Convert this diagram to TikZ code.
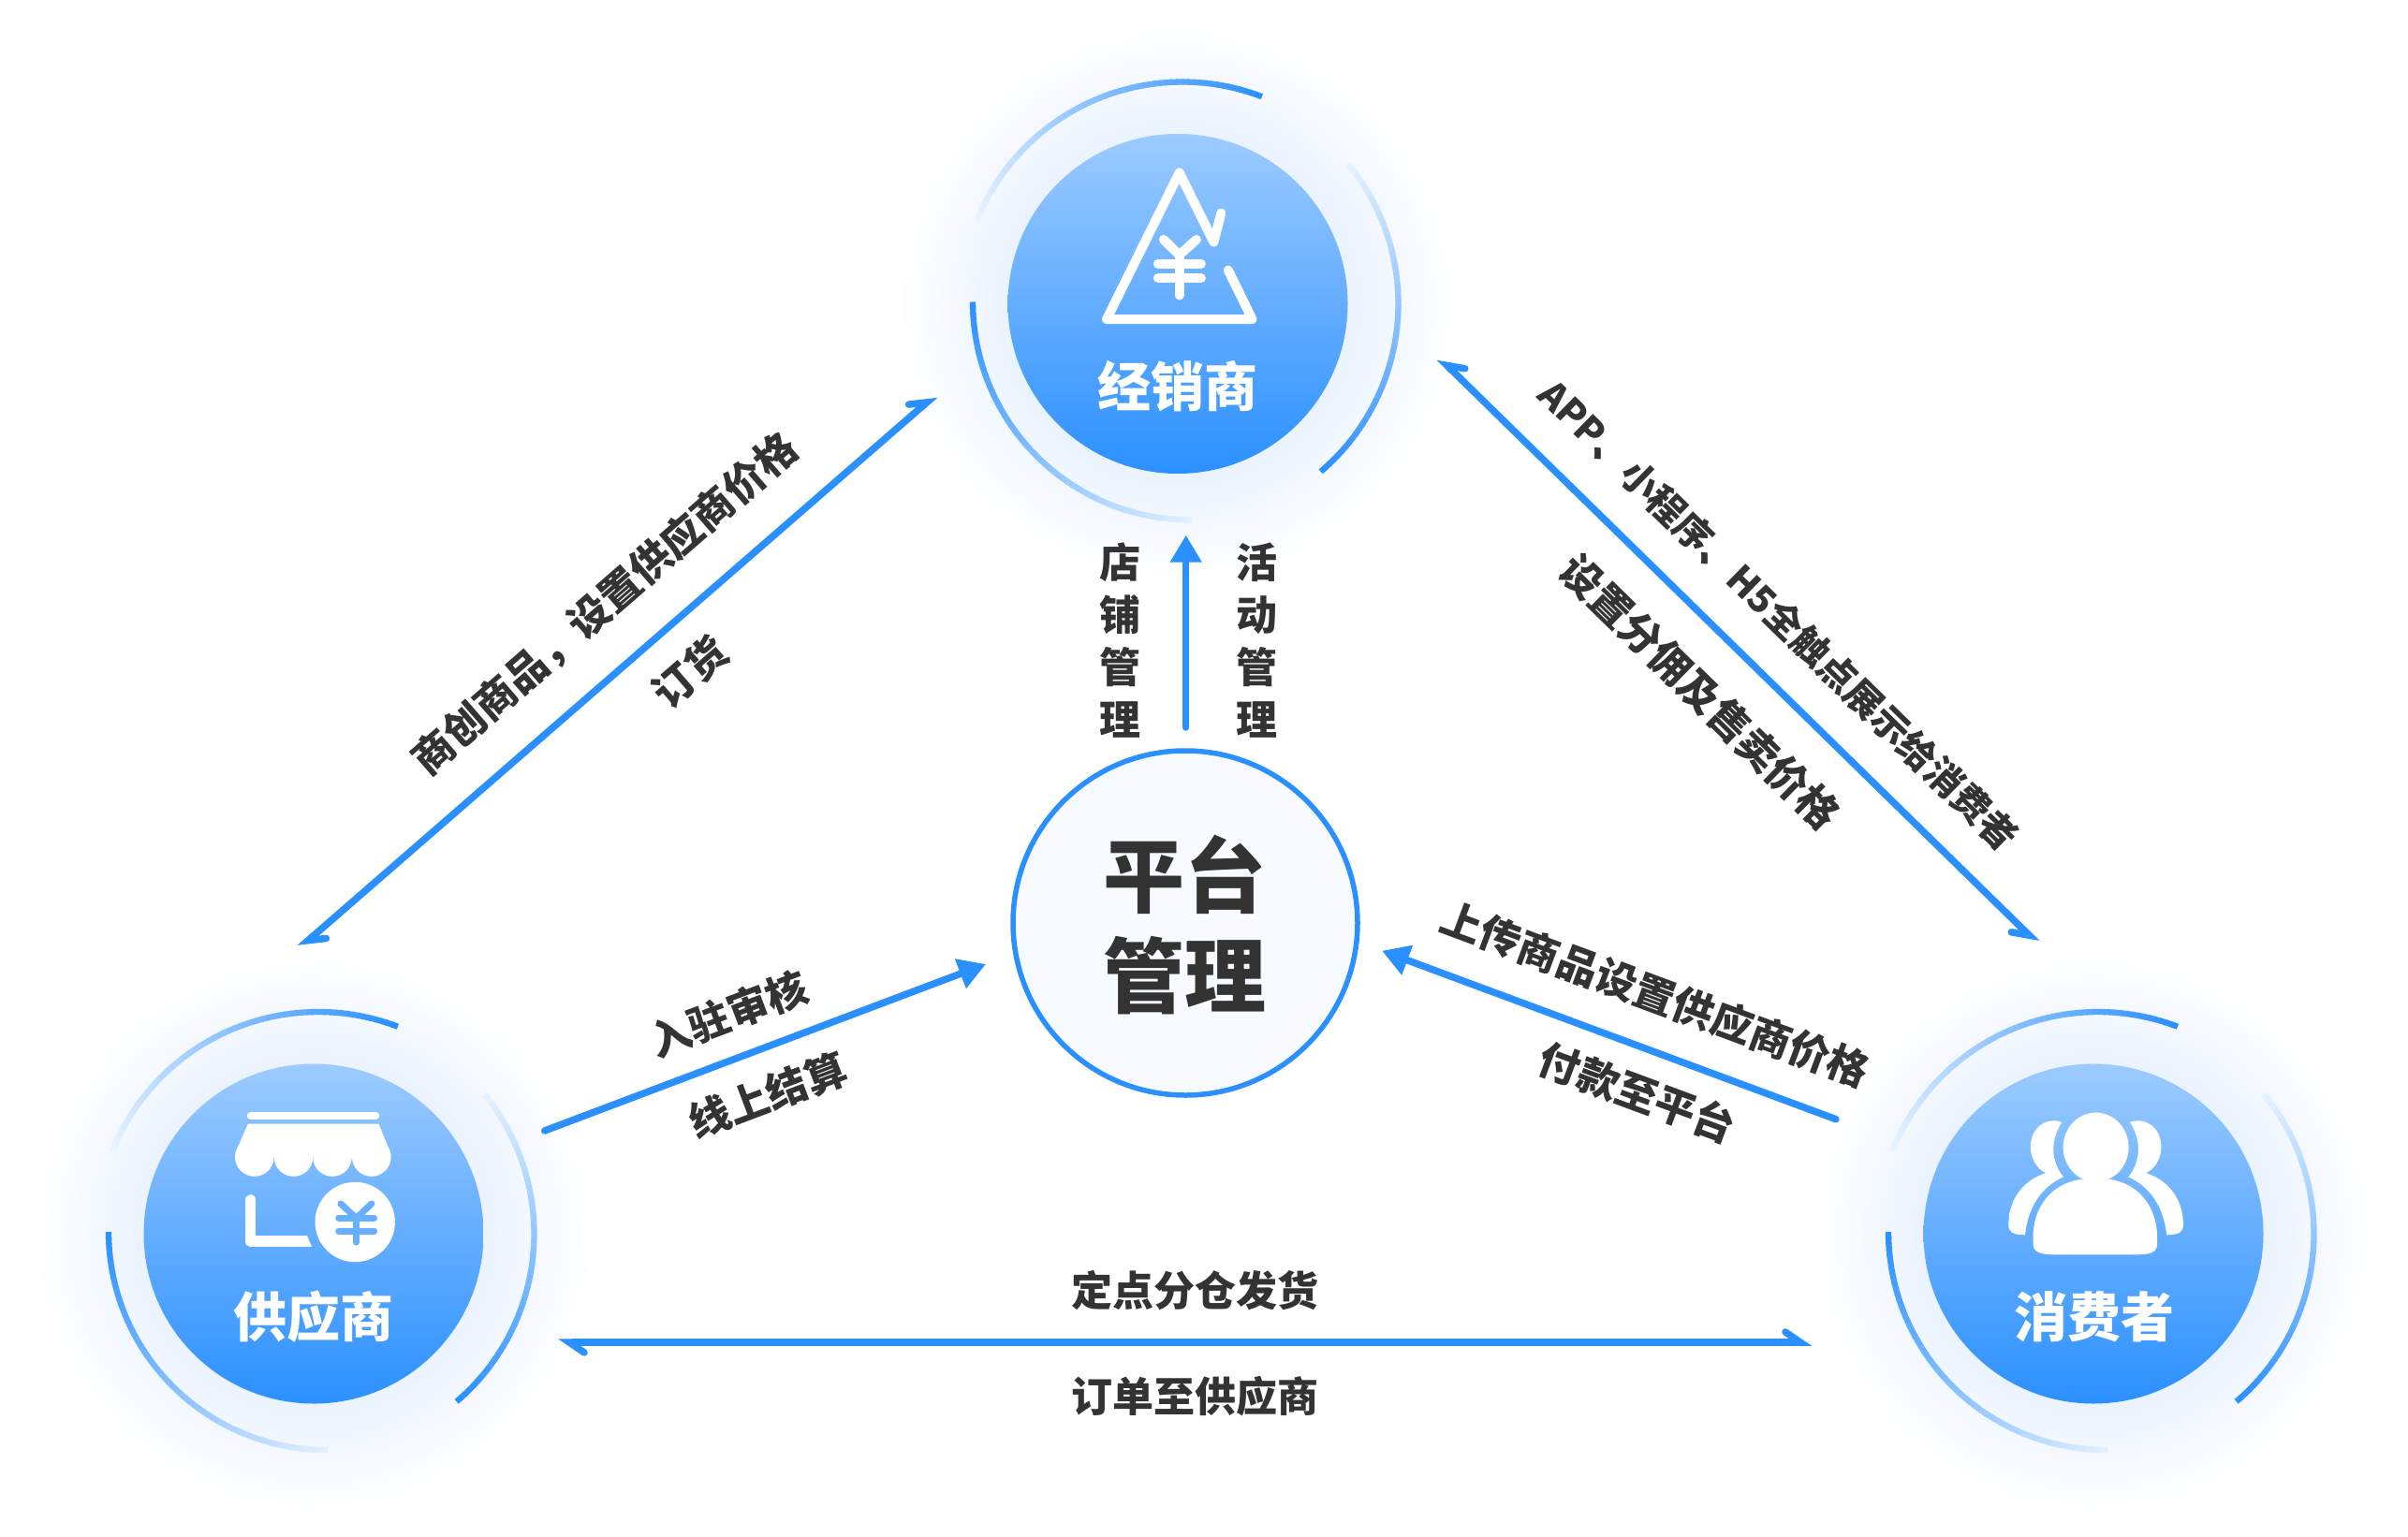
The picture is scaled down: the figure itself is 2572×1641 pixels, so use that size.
\documentclass[tikz,border=0pt]{standalone}
\usepackage{fontspec}
\setmainfont{Noto Sans CJK SC}
\usetikzlibrary{arrows.meta,calc}

\definecolor{hubblue}{HTML}{2B90FF}
\definecolor{hubtop}{HTML}{9CCBFF}
\definecolor{glowblue}{HTML}{EAF3FE}
\definecolor{glowmid}{HTML}{F3F8FF}
\definecolor{coinyen}{HTML}{68AFFF}
\definecolor{corefill}{HTML}{F7FBFF}
\definecolor{inktext}{HTML}{333333}

\pgfdeclareradialshading{hubglow}{\pgfpointorigin}{
	color(0bp)=(glowblue); color(15.5bp)=(glowblue); color(19bp)=(glowmid); color(25bp)=(white); color(50bp)=(white)}

\tikzset{
	hub/.style={circle, inner sep=0pt, minimum size=363pt, top color=hubtop, bottom color=hubblue},
	hubtext/.style={text=white, font=\bfseries\fontsize{57}{62}\selectfont},
	core/.style={circle, inner sep=0pt, minimum size=368pt, draw=hubblue, line width=5.5pt, fill=corefill},
	coretext/.style={text=inktext, align=center, font=\bfseries\fontsize{87}{107}\selectfont},
	flowtext/.style={text=inktext, inner sep=0pt, font=\bfseries\fontsize{44}{50}\selectfont},
	vtext/.style={text=inktext, inner sep=0pt, align=center, font=\bfseries\fontsize{44}{56}\selectfont},
	flow/.style={draw=hubblue, line width=7.5pt, line cap=round},
	barbleft/.tip={Straight Barb[harpoon, length=16pt, width=22pt, line cap=round]},
	barbright/.tip={Straight Barb[harpoon, swap, length=16pt, width=22pt, line cap=round]},
	solidtip/.tip={Triangle[length=29pt, width=32pt]},
	decoarc/.style={line width=6.3pt},
	iconline/.style={draw=white, line width=10pt, line cap=round, line join=round},
}

\newcommand{\fadearc}[6]{
	\foreach \i in {0,...,59} {
		\pgfmathsetmacro{\angA}{#3+(#4-#3)*\i/60}
		\pgfmathsetmacro{\angB}{#3+(#4-#3)*(\i+1.2)/60}
		\pgfmathsetmacro{\pct}{#5+(#6-#5)*\i/59}
		\draw [decoarc, hubblue!\pct!white] ($(#1)+(\angA:#2)$) -- ($(#1)+(\angB:#2)$);
	}
}
\newcommand{\hubring}[1]{
	\shade [shading=hubglow] (#1) circle [radius=300];
	\coordinate (ringtop) at ($(#1)+(5,0)$);
	\coordinate (ringlow) at ($(#1)+(14,-2)$);
	\fadearc{ringtop}{237}{201.8}{290.7}{10}{100}
	\fadearc{#1}{235.5}{-39.3}{49.3}{12}{100}
	\fadearc{ringlow}{233}{180}{90}{100}{14}
}

\begin{document}
\begin{tikzpicture}[x=1pt, y=-1pt]
	\useasboundingbox (0,0) rectangle (2572,1641);
	\fill [white] (0,0) rectangle (2572,1641);

	\coordinate (dealerpos) at (1258,324.5);
	\coordinate (supplierpos) at (335,1318);
	\coordinate (consumerpos) at (2236,1318);
	\hubring{dealerpos}
	\hubring{supplierpos}
	\hubring{consumerpos}

	\node (dealer) [hub] at (dealerpos) {};
	\node (supplier) [hub] at (supplierpos) {};
	\node (consumer) [hub] at (consumerpos) {};
	\node (dealername) [hubtext] at (1258,413) {经销商};
	\node (suppliername) [hubtext] at (335,1407) {供应商};
	\node (consumername) [hubtext] at (2237,1407) {消费者};

	\node (platform) [core] at (1266,986) {};
	\node (platformname) [coretext] at (1265,988) {平台\\管理};

	% dealer icon
	\draw [iconline] (1311.8,288.6) -- (1337.5,341) -- (1182,341) -- (1259.6,184.5) -- (1296.4,258.6) -- (1304.3,227.6);
	\draw [iconline] (1242.9,256) -- (1259.6,272.4) -- (1277.9,256);
	\draw [iconline] (1259.6,272.4) -- (1259.6,315.5);
	\draw [iconline] (1236.8,281.7) -- (1282.9,281.7);
	\draw [iconline] (1236.8,297.2) -- (1282.9,297.2);

	% supplier icon
	\draw [iconline, line width=8.6pt] (268,1192) -- (401,1192);
	\fill [white] (265,1200.5) -- (404.4,1200.5) -- (416.5,1230) -- (417.5,1236) -- (251,1236) -- (252,1230) -- cycle;
	\foreach \lobe in {271.8,313.5,355,396.8}
		\fill [white] (\lobe,1236) circle [radius=20.8];
	\draw [iconline, line width=11.7pt] (267.6,1282) -- (267.6,1326) -- (300,1326);
	\fill [white] (300,1320.2) -- (328,1320.2) -- (333,1331.8) -- (300,1331.8) -- cycle;
	\fill [white] (379.2,1305.5) circle [radius=42.7];
	\draw [iconline, draw=coinyen, line width=7pt] (364,1286) -- (380.6,1301.4) -- (396.8,1286);
	\draw [iconline, draw=coinyen, line width=7pt] (380.6,1301.4) -- (380.6,1327);
	\draw [iconline, draw=coinyen, line width=7pt] (361.7,1301) -- (399.6,1301);
	\draw [iconline, draw=coinyen, line width=7pt] (361.7,1315) -- (399.6,1315);

	% consumer icon
	\fill [white] (2238.6,1225.6) ellipse [x radius=35, y radius=37];
	\fill [white] (2221.4,1260.1) .. controls (2189.4,1265.3) and (2171.5,1291) .. (2171.5,1322)
		-- (2171.5,1329) .. controls (2171.5,1338.6) and (2182.5,1340.3) .. (2192.9,1340.3)
		-- (2282.4,1340.3) .. controls (2294.5,1340.3) and (2304.1,1338.6) .. (2304.1,1329)
		-- (2304.1,1322) .. controls (2304.1,1291) and (2285.9,1265.3) .. (2254.8,1260.1) -- cycle;
	\foreach \side/\mirror in {0/1, 4477.2/-1}
		\fill [white, shift={(\side,0)}, xscale=\mirror] (2202.2,1198.8) .. controls (2185,1193) and (2168.8,1205) .. (2168.8,1225.6)
			.. controls (2168.8,1238) and (2176,1249) .. (2185.3,1253.2)
			.. controls (2165,1259) and (2145.3,1278) .. (2145.3,1308)
			.. controls (2145.3,1317) and (2150,1319) .. (2163,1319.3)
			.. controls (2166,1290) and (2180,1268) .. (2203.9,1257.3)
			.. controls (2190,1240) and (2190,1218) .. cycle;

	\coordinate (supplierup) at (320,1012.6);
	\coordinate (dealerleft) at (999,422);
	\coordinate (dealerright) at (1537,382);
	\coordinate (consumerup) at (2176,1007.6);
	\coordinate (supplierright) at (581.7,1208);
	\coordinate (platformleft) at (1053,1030);
	\coordinate (consumerleft) at (1961,1195.7);
	\coordinate (platformright) at (1476,1015.7);
	\coordinate (platformup) at (1266.7,777);
	\coordinate (dealerdown) at (1266.7,571.6);
	\coordinate (supplierlow) at (596,1434);
	\coordinate (consumerlow) at (1935,1434);

	\draw [flow, barbleft-barbleft] (supplierup) -- (dealerleft);
	\draw [flow, barbright-barbright] (dealerright) -- (consumerup);
	\draw [flow, -solidtip] (supplierright) -- (platformleft);
	\draw [flow, -solidtip] (consumerleft) -- (platformright);
	\draw [flow, -solidtip] (platformup) -- (dealerdown);
	\draw [flow, barbleft-barbleft] (supplierlow) -- (consumerlow);

	\node (listing) [flowtext, rotate=41] at (646,645) {商创商品，设置供应商价格};
	\node (ordering) [flowtext, rotate=41] at (737,718) {订货};
	\node (touchpoints) [flowtext, font=\bfseries\fontsize{40}{50}\selectfont, rotate=-44.4] at (1900,657) {APP、小程序、H5全触点展示给消费者};
	\node (pricing) [flowtext, rotate=-44.4] at (1816,739) {设置分佣及售卖价格};
	\node (onboarding) [flowtext, rotate=20.7] at (778,1083) {入驻审核};
	\node (settlement) [flowtext, rotate=20.7] at (820,1170) {线上结算};
	\node (upload) [flowtext, rotate=-20.4] at (1768,1062) {上传商品设置供应商价格};
	\node (payment) [flowtext, rotate=-20.4] at (1749,1167) {付款至平台};
	\node (shipping) [flowtext] at (1276,1379) {定点分仓发货};
	\node (forwarding) [flowtext] at (1276,1492) {订单至供应商};
	\node (shopmanage) [vtext] at (1196,684) {店\\铺\\管\\理};
	\node (eventmanage) [vtext] at (1342,684) {活\\动\\管\\理};
\end{tikzpicture}
\end{document}
